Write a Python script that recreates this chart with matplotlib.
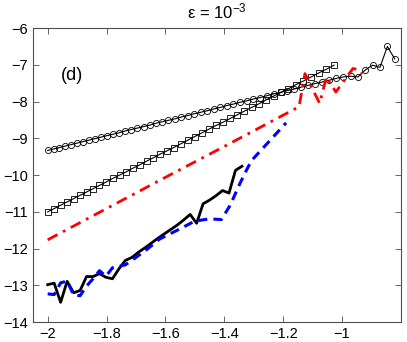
import matplotlib
matplotlib.use("Agg")
import matplotlib.pyplot as plt

plt.rcParams['font.family'] = ['Liberation Sans', 'DejaVu Sans']
plt.rcParams['mathtext.default'] = 'regular'

# circles (black, slope ~2)
x_circ = [-2.000, -1.980, -1.960, -1.940, -1.920, -1.900, -1.880, -1.860, -1.840, -1.820, -1.800,
          -1.779, -1.758, -1.737, -1.716, -1.695, -1.674, -1.653, -1.632, -1.611, -1.590,
          -1.568, -1.546, -1.524, -1.502, -1.480, -1.458, -1.436, -1.414, -1.392, -1.370,
          -1.347, -1.324, -1.301, -1.278, -1.255, -1.232, -1.209, -1.186, -1.163, -1.140,
          -1.116, -1.092, -1.068, -1.044, -1.020, -0.996,
          -0.971, -0.946, -0.921, -0.896, -0.871, -0.846, -0.821]
y_circ = [-9.33, -9.29, -9.25, -9.21, -9.17, -9.13, -9.09, -9.05, -9.01, -8.97, -8.93,
          -8.89, -8.85, -8.80, -8.76, -8.72, -8.68, -8.64, -8.59, -8.55, -8.51,
          -8.47, -8.42, -8.38, -8.33, -8.29, -8.25, -8.20, -8.16, -8.11, -8.07,
          -8.02, -7.98, -7.93, -7.89, -7.84, -7.79, -7.75, -7.70, -7.66, -7.61,
          -7.56, -7.51, -7.47, -7.42, -7.37, -7.33,
          -7.31, -7.33, -7.14, -7.01, -7.07, -6.50, -6.84]

# squares (black, slope ~4)
x_sq = [-2.000, -1.978, -1.956, -1.934, -1.912, -1.890, -1.868, -1.846, -1.824, -1.802,
        -1.779, -1.756, -1.733, -1.710, -1.687, -1.664, -1.641, -1.618, -1.595, -1.572,
        -1.548, -1.524, -1.500, -1.476, -1.452, -1.428, -1.404, -1.380, -1.356, -1.332,
        -1.307, -1.282, -1.257, -1.232, -1.207, -1.182, -1.157,
        -1.131, -1.105, -1.079, -1.053, -1.027]
y_sq = [-11.00, -10.91, -10.82, -10.73, -10.64, -10.55, -10.46, -10.37, -10.28, -10.19,
        -10.09, -10.00, -9.91, -9.81, -9.72, -9.62, -9.53, -9.43, -9.34, -9.25,
        -9.15, -9.05, -8.95, -8.85, -8.75, -8.65, -8.56, -8.46, -8.36, -8.26,
        -8.16, -8.06, -7.95, -7.85, -7.75, -7.65, -7.54,
        -7.44, -7.33, -7.22, -7.12, -7.01]

# red dash-dot
x_red = [-2.0, -1.8, -1.6, -1.4, -1.2, -1.146, -1.126, -1.076, -1.053, -1.021, -0.963, -0.94, -0.93]
y_red = [-11.76, -10.91, -10.06, -9.22, -8.37, -8.14, -7.24, -8.05, -7.33, -7.74, -7.10, -7.14, -7.24]

# black solid
x_blk = [-2.000, -1.978, -1.956, -1.934, -1.912, -1.890, -1.868, -1.846, -1.824, -1.802,
         -1.780, -1.758, -1.736, -1.714, -1.692, -1.670, -1.648, -1.626, -1.604, -1.582,
         -1.560, -1.538, -1.516, -1.494, -1.472, -1.450, -1.428, -1.406, -1.384, -1.362, -1.340]
y_blk = [-12.98, -12.94, -13.46, -12.89, -13.20, -13.14, -12.76, -12.76, -12.68, -12.78,
         -12.82, -12.55, -12.32, -12.24, -12.10, -11.98, -11.85, -11.72, -11.60, -11.48,
         -11.36, -11.22, -11.07, -11.31, -10.78, -10.68, -10.56, -10.42, -10.49, -9.87, -9.76]

# blue dashed
x_blu = [-2.0, -1.978, -1.956, -1.934, -1.912, -1.89, -1.868, -1.846, -1.824, -1.802,
         -1.78, -1.758, -1.736, -1.714, -1.692, -1.67, -1.62, -1.55, -1.50, -1.45,
         -1.41, -1.38, -1.347, -1.325, -1.307, -1.19]
y_blu = [-13.23, -13.25, -12.93, -12.88, -13.26, -13.28, -13.02, -12.82, -12.60, -12.75,
         -12.52, -12.48, -12.44, -12.32, -12.19, -12.07, -11.74, -11.46, -11.25, -11.19,
         -11.21, -10.82, -10.23, -9.87, -9.60, -8.58]

xticks = [-2, -1.8, -1.6, -1.4, -1.2, -1]
xlabels = ['\u22122', '\u22121.8', '\u22121.6', '\u22121.4', '\u22121.2', '\u22121']
yticks = [-14, -13, -12, -11, -10, -9, -8, -7, -6]
ylabels = ['\u2212' + str(-t) for t in yticks]

fig = plt.figure(figsize=(4.07, 3.42), dpi=100)
ax = fig.add_axes([0.081, 0.058, 0.904, 0.86])

ax.plot(x_circ, y_circ, '-', color='k', lw=0.8, marker='o', ms=4.4,
        mfc='none', mec='k', mew=0.6)
ax.plot(x_sq, y_sq, '-', color='k', lw=0.8, marker='s', ms=3.8,
        mfc='none', mec='k', mew=0.6)
ax.plot(x_red, y_red, color='red', lw=2.0, dashes=(4, 2.2, 1, 2.2))
ax.plot(x_blk, y_blk, '-', color='k', lw=2.0)
ax.plot(x_blu, y_blu, color='blue', lw=2.2, dashes=(3, 2))

ax.set_xlim(-2.05, -0.8)
ax.set_ylim(-14, -6)
ax.set_xticks(xticks)
ax.set_xticklabels(xlabels)
ax.set_yticks(yticks)
ax.set_yticklabels(ylabels)
ax.tick_params(direction='in', top=True, right=True, length=4, width=0.6,
               labelsize=10.5, color='0.3')
for s in ax.spines.values():
    s.set_color('0.3')
    s.set_linewidth(0.8)

ax.text(-1.955, -7.28, '(d)', fontsize=13, va='center')
ax.set_title('\u03b5 = 10$^{\u22123}$', fontsize=12, pad=7)

fig.savefig('out.png', dpi=100)
